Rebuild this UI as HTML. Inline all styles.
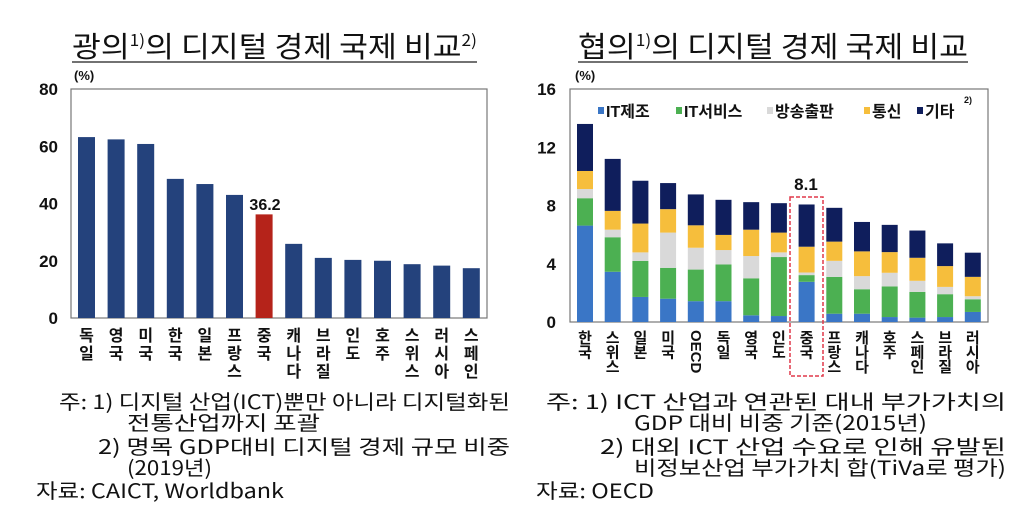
<!DOCTYPE html>
<html><head><meta charset="utf-8">
<style>
body{margin:0;background:#fff;width:1024px;height:521px;overflow:hidden;font-family:"Liberation Sans","Noto Sans CJK KR",sans-serif;}
svg text{font-family:"Liberation Sans","Noto Sans CJK KR",sans-serif;}
.t text{font-family:"Noto Sans CJK KR",sans-serif;}
</style></head><body>
<svg id="s" width="1024" height="521" xmlns="http://www.w3.org/2000/svg">
<g class="t">
<text x="72" y="57" font-size="29" textLength="405" lengthAdjust="spacingAndGlyphs" fill="#111">광의<tspan font-size="16" dy="-11">1)</tspan><tspan dy="11">의 디지털 경제 국제 비교</tspan><tspan font-size="16" dy="-11">2)</tspan></text>
<line x1="72" y1="62" x2="477" y2="62" stroke="#444" stroke-width="1.5"/>
<text x="578" y="57" font-size="29" textLength="390" lengthAdjust="spacingAndGlyphs" fill="#111">협의<tspan font-size="16" dy="-11">1)</tspan><tspan dy="11">의 디지털 경제 국제 비교</tspan></text>
<line x1="578" y1="62" x2="968" y2="62" stroke="#444" stroke-width="1.5"/>
</g>
<g id="L"></g><g id="R"></g>
<g class="t" font-size="20" fill="#111">
<text x="59" y="409" textLength="451" lengthAdjust="spacingAndGlyphs">주: 1) 디지털 산업(ICT)뿐만 아니라 디지털화된</text>
<text x="127" y="430" textLength="193" lengthAdjust="spacingAndGlyphs">전통산업까지 포괄</text>
<text x="98" y="454" textLength="412" lengthAdjust="spacingAndGlyphs">2) 명목 GDP대비 디지털 경제 규모 비중</text>
<text x="127" y="475" textLength="85" lengthAdjust="spacingAndGlyphs">(2019년)</text>
<text x="36" y="498" textLength="248" lengthAdjust="spacingAndGlyphs">자료: CAICT, Worldbank</text>
<text x="546" y="409" textLength="460" lengthAdjust="spacingAndGlyphs">주: 1) ICT 산업과 연관된 대내 부가가치의</text>
<text x="634" y="430" textLength="293" lengthAdjust="spacingAndGlyphs">GDP 대비 비중 기준(2015년)</text>
<text x="600" y="454" textLength="406" lengthAdjust="spacingAndGlyphs">2) 대외 ICT 산업 수요로 인해 유발된</text>
<text x="634" y="475" textLength="372" lengthAdjust="spacingAndGlyphs">비정보산업 부가가치 합(TiVa로 평가)</text>
<text x="536" y="498" textLength="118" lengthAdjust="spacingAndGlyphs">자료: OECD</text>
</g>
</svg>
<script>
var NS="http://www.w3.org/2000/svg";
function el(p,t,a,txt){var e=document.createElementNS(NS,t);for(var k in a)e.setAttribute(k,a[k]);if(txt!=null)e.textContent=txt;p.appendChild(e);return e;}
var L=document.getElementById('L');
var lv=[63.2,62.4,60.8,48.6,46.8,43,36.2,25.9,21,20.3,20,18.8,18.3,17.4];
var ln=["독일","영국","미국","한국","일본","프랑스","중국","캐나다","브라질","인도","호주","스위스","러시아","스페인"];
var y0=318,sc=229/80;
el(L,'rect',{x:71,y:89,width:416,height:229,fill:'none',stroke:'#777','stroke-width':1.2});
for(var v=0;v<=80;v+=20)el(L,'text',{x:58,y:y0-v*sc+6,'font-size':17,'font-weight':'bold','text-anchor':'end',fill:'#111'},v);
el(L,'text',{x:74,y:80,'font-size':13,'font-weight':'bold',fill:'#111'},'(%)');
lv.forEach(function(v,i){var x=78+29.6*i;var h=v*sc;
el(L,'rect',{x:x,y:y0-h,width:17,height:h,fill:i==6?'#b5231a':'#24427c'});
for(var j=0;j<ln[i].length;j++)el(L,'text',{x:x+8.5,y:341+j*18,'font-size':16,'font-weight':'bold','text-anchor':'middle',fill:'#111'},ln[i][j]);
});
el(L,'text',{x:265,y:210,'font-size':16,'font-weight':'bold','text-anchor':'middle',fill:'#111'},'36.2');
var R=document.getElementById('R');
var rd=[[6.62,8.5,9.13,10.37,13.6],[3.45,5.82,6.34,7.63,11.2],[1.72,4.2,4.78,6.76,9.7],[1.6,3.72,6.14,7.75,9.54],[1.43,3.6,5.1,6.64,8.76],[1.43,3.95,4.94,5.98,8.39],[0.46,3.0,4.53,6.34,8.23],[0.41,4.46,4.78,6.14,8.16],[2.76,3.22,3.4,5.17,8.07],[0.57,3.1,4.2,5.52,7.84],[0.57,2.25,3.15,4.85,6.87],[0.34,2.44,3.38,4.8,6.67],[0.3,2.07,2.83,4.41,6.28],[0.34,1.91,2.41,3.84,5.4],[0.69,1.56,1.77,3.1,4.76]];
var rn=["한국","스위스","일본","미국","OECD","독일","영국","인도","중국","프랑스","캐나다","호주","스페인","브라질","러시아"];
var cols=['#3a76c6','#4cb052','#d9d9d9','#f6be3c','#0f1e5c'];
var ry0=322,rs=233/16;
el(R,'rect',{x:570,y:89,width:418,height:233,fill:'none',stroke:'#777','stroke-width':1.2});
for(var v=0;v<=16;v+=4)el(R,'text',{x:556,y:ry0-v*rs+6,'font-size':17,'font-weight':'bold','text-anchor':'end',fill:'#111'},v);
el(R,'text',{x:575,y:80,'font-size':13,'font-weight':'bold',fill:'#111'},'(%)');
rd.forEach(function(d,i){var x=577+27.7*i,prev=0;
d.forEach(function(v,k){el(R,'rect',{x:x,y:ry0-v*rs,width:16,height:(v-prev)*rs,fill:cols[k]});prev=v;});
var cx=x+8;
if(rn[i]=="OECD"){el(R,'text',{x:0,y:0,'font-size':15,'font-weight':'bold',fill:'#111',transform:'translate('+(cx-5)+',330) rotate(90)'},'OECD');}
else for(var j=0;j<rn[i].length;j++)el(R,'text',{x:cx,y:343+j*14.5,'font-size':15,'font-weight':'bold','text-anchor':'middle',fill:'#111'},rn[i][j]);
});
el(R,'rect',{x:790,y:197,width:33,height:179,fill:'none',stroke:'#e0394a','stroke-width':1.5,'stroke-dasharray':'4,2'});
el(R,'text',{x:806,y:190,'font-size':17,'font-weight':'bold','text-anchor':'middle',fill:'#111'},'8.1');
var lg=[[598,'IT제조'],[676,'IT서비스'],[767,'방송출판'],[864,'통신'],[917,'기타']];
lg.forEach(function(g,k){el(R,'rect',{x:g[0],y:107,width:6,height:7,fill:cols[k]});
el(R,'text',{x:g[0]+8,y:117,'font-size':16,'font-weight':'bold',fill:'#111'},g[1]);});
el(R,'text',{x:964,y:103,'font-size':9,'font-weight':'bold',fill:'#111'},'2)');
</script>
</body></html>
